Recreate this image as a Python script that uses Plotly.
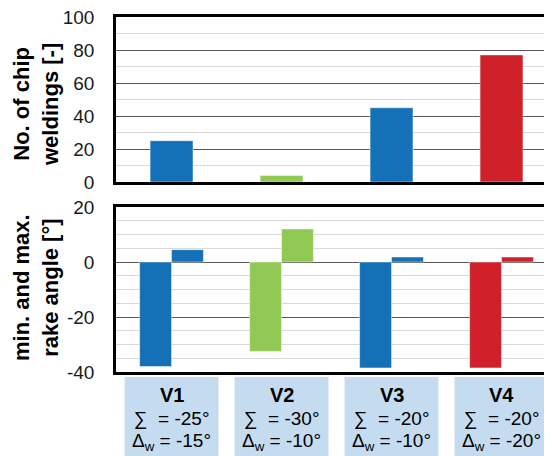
import plotly.graph_objects as go

categories = ["V1", "V2", "V3", "V4"]
chip_weldings = [25, 4, 45, 77]
rake_min = [-38, -32.5, -38.5, -38.5]
rake_max = [4.5, 12, 1.8, 1.8]
sum_labels = ["-25°", "-30°", "-20°", "-20°"]
dw_labels = ["-15°", "-10°", "-10°", "-20°"]
top_ticks = [0, 20, 40, 60, 80, 100]
bot_ticks = [-40, -20, 0, 20]

BLUE = "#1470B7"
GREEN = "#92C955"
RED = "#D0212A"
colors = [BLUE, GREEN, BLUE, RED]

FONT = "Arial, Liberation Sans, sans-serif"

fig = go.Figure()

edge = dict(color="rgba(255,255,255,0.45)", width=1)
fig.add_trace(go.Bar(x=categories, y=chip_weldings, width=0.39,
                     marker=dict(color=colors, line=edge),
                     xaxis="x", yaxis="y", showlegend=False))
fig.add_trace(go.Bar(x=categories, y=rake_min, width=0.29, offset=-0.29,
                     marker=dict(color=colors, line=edge),
                     xaxis="x2", yaxis="y2", showlegend=False))
fig.add_trace(go.Bar(x=categories, y=rake_max, width=0.29, offset=0,
                     marker=dict(color=colors, line=edge),
                     xaxis="x2", yaxis="y2", showlegend=False))

xr = [-0.505, 3.459]
xcommon = dict(type="category", range=xr, showticklabels=False, showgrid=False,
               showline=True, linecolor="black", linewidth=2.5, mirror=True,
               zeroline=False, ticks="")
ycommon = dict(showline=True, linecolor="black", linewidth=2.5, mirror=False,
               gridcolor="#595959", gridwidth=1, ticks="", ticklabelstandoff=15,
               ticklabeloverflow="allow",
               tickfont=dict(family=FONT, size=19, color="#1a1a1a"))

# the page body adds an 8px offset; figure coords = window coords - 8
top_dom = [(372 - 182) / 355, 1]
bot_dom = [0, (372 - 207) / 355]

fig.update_layout(
    width=544, height=448,
    margin=dict(l=108, r=0, t=9, b=84),
    paper_bgcolor="white", plot_bgcolor="white",
    barmode="overlay",
    xaxis=dict(domain=[0, 1], anchor="y", **xcommon),
    xaxis2=dict(domain=[0, 1], anchor="y2", **xcommon),
    yaxis=dict(domain=top_dom, anchor="x", range=[0, 100],
               tickvals=top_ticks, ticktext=[str(v) for v in top_ticks],
               zeroline=False,
               minor=dict(dtick=10, tick0=0, showgrid=True, gridcolor="#D9D9D9", gridwidth=1),
               **ycommon),
    yaxis2=dict(domain=bot_dom, anchor="x2", range=[-40, 20],
                tickvals=bot_ticks, ticktext=[str(v) for v in bot_ticks],
                zeroline=True, zerolinecolor="#595959", zerolinewidth=1,
                minor=dict(dtick=5, tick0=0, showgrid=True, gridcolor="#D9D9D9", gridwidth=1),
                **ycommon),
)

annotations = []
annotations.append(dict(text="<b>No. of chip<br>weldings [-]</b>", xref="paper", yref="paper",
                        x=(36 - 116) / 436, y=(372 - 105) / 355, xanchor="center", yanchor="middle",
                        textangle=-90, showarrow=False,
                        font=dict(family=FONT, size=22, color="black")))
annotations.append(dict(text="<b>min. and max.<br>rake angle [°]</b>", xref="paper", yref="paper",
                        x=(36 - 116) / 436, y=(372 - 288) / 355, xanchor="center", yanchor="middle",
                        textangle=-90, showarrow=False,
                        font=dict(family=FONT, size=22, color="black")))

shapes = []
for i, c in enumerate(categories):
    shapes.append(dict(type="rect", xref="x2", yref="paper",
                       x0=i - 0.427, x1=i + 0.427,
                       y0=(372 - 377) / 355, y1=(372 - 460) / 355,
                       fillcolor="#C5DCF0", line=dict(width=0), layer="below"))
    annotations.append(dict(text=f"<b>{c}</b>", xref="x2", yref="paper", x=i,
                            y=(372 - 395) / 355, xanchor="center", yanchor="middle",
                            showarrow=False, font=dict(family=FONT, size=20, color="black")))
    annotations.append(dict(text=f"∑  = {sum_labels[i]}", xref="x2", yref="paper", x=i,
                            y=(372 - 419) / 355, xanchor="center", yanchor="middle",
                            showarrow=False, font=dict(family=FONT, size=19, color="black")))
    annotations.append(dict(text=f"Δ<sub>w</sub> = {dw_labels[i]}", xref="x2", yref="paper", x=i,
                            y=(372 - 442) / 355, xanchor="center", yanchor="middle",
                            showarrow=False, font=dict(family=FONT, size=19, color="black")))

fig.update_layout(annotations=annotations, shapes=shapes)

fig.write_html("out.html")
